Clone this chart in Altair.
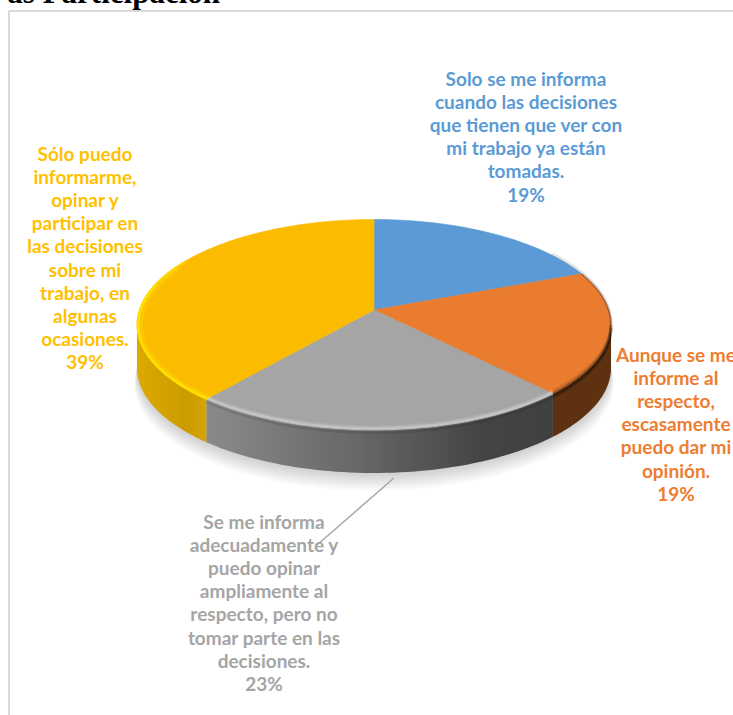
import math
import altair as alt
import pandas as pd

# Survey answers, in clockwise order from twelve o'clock
shares = [19, 19, 23, 39]
top_colors = ["#5b9ad4", "#ea7c30", "#a5a5a5", "#fbbc00"]
text_colors = ["#5b9bd5", "#ed7d31", "#a5a5a5", "#ffc000"]
answers = [
    "Solo se me informa\ncuando las decisiones\nque tienen que ver con\nmi trabajo ya están\ntomadas.",
    "Aunque se me\ninforme al\nrespecto,\nescasamente\npuedo dar mi\nopinión.",
    "Se me informa\nadecuadamente y\npuedo opinar\nampliamente al\nrespecto, pero no\ntomar parte en las\ndecisiones.",
    "Sólo puedo\ninformarme,\nopinar y\nparticipar en\nlas decisiones\nsobre mi\ntrabajo, en\nalgunas\nocasiones.",
]
heading = "as Participación"

# Label placement: centre x and top y of each text block
label_x = [526, 676, 264, 85]
label_y = [71, 347, 514, 146]

W, H = 733, 715
CX, CY = 374, 310       # projected pie centre
RX, RY = 234.7, 103.2   # projected radii
TILT = 0.14             # perspective strength
DEPTH = 43              # height of the pie wall
SIDE = math.degrees(math.acos(-TILT))  # angle of the widest point of the outline


def rim(theta, dy=0.0, grow=1.0):
    """Screen position of the pie rim at `theta` degrees clockwise from the top."""
    t = math.radians(theta)
    u, v = math.sin(t), -math.cos(t)
    w = 1 - TILT * v
    return CX + grow * RX * u / w, CY + grow * RY * v / w + dy


def arc(a, b, dy=0.0, grow=1.0, step=1.5):
    n = max(2, int(abs(b - a) / step) + 1)
    return [rim(a + (b - a) * i / (n - 1), dy, grow) for i in range(n)]


def frame(points):
    return pd.DataFrame(
        {"x": [p[0] for p in points], "y": [p[1] for p in points], "i": range(len(points))}
    )


x_scale = alt.Scale(domain=[0, W], range=[0, W], nice=False, zero=False)
y_scale = alt.Scale(domain=[0, H], range=[0, H], nice=False, zero=False)


def path(points, **style):
    return alt.Chart(frame(points)).mark_line(**style).encode(
        x=alt.X("x:Q", scale=x_scale, axis=None),
        y=alt.Y("y:Q", scale=y_scale, axis=None),
        order="i:Q",
    )


def shape(points, fill, opacity=1.0, stroke_width=0.6):
    return path(
        points, interpolate="linear-closed", fill=fill, stroke=fill,
        strokeWidth=stroke_width, opacity=opacity,
    )


def band(a, b, dy, color, width, opacity, grow=1.0):
    return path(arc(a, b, dy, grow), stroke=color, strokeWidth=width, strokeOpacity=opacity, strokeCap="butt")


def horizontal(stops):
    return alt.Gradient(
        gradient="linear", x1=0, x2=1, y1=0, y2=0,
        stops=[alt.GradientStop(offset=o, color=c) for o, c in stops],
    )


# Slice boundaries from the shares
edges = [0.0]
for s in shares:
    edges.append(edges[-1] + s * 3.6)

layers = []

# Soft ground shadow
for k in range(8):
    outline = arc(SIDE - 14, 360 - SIDE + 14, DEPTH + 1 + 2.2 * k, 1.0 + 0.0015 * k)
    layers.append(shape(outline, "#000000", opacity=0.022, stroke_width=0))

# Walls of the slices that face the viewer
wall_fills = {
    1: horizontal([(0, "#5e3110"), (1, "#5e3110")]),
    2: horizontal([(0, "#8a8a8a"), (0.45, "#666666"), (0.8, "#444444"), (1, "#404040")]),
    3: horizontal([(0, "#dca900"), (0.7, "#cc9c00"), (1, "#d6a400")]),
}
wall_spans = {1: (SIDE, edges[2]), 2: (edges[2], edges[3]), 3: (edges[3], 360 - SIDE)}
for idx, (a, b) in wall_spans.items():
    layers.append(shape(arc(a, b) + arc(b, a, DEPTH), wall_fills[idx], stroke_width=0))

# Top faces
for idx in range(len(shares)):
    layers.append(shape([(CX, CY)] + arc(edges[idx], edges[idx + 1]), top_colors[idx]))

# Bevel along the rim
layers += [
    band(edges[0] + 55, SIDE, -1.5, "#000000", 3, 0.10),
    band(edges[1], SIDE, 0, "#000000", 2, 0.22),
    band(SIDE, edges[2], -3, "#000000", 2.5, 0.10),
    band(SIDE, edges[2], 0, "#000000", 3, 0.35),
    band(SIDE, edges[2], 3, "#000000", 3, 0.30),
    band(edges[2], edges[3], -3.5, "#ffffff", 2, 0.12),
    band(edges[2], edges[3], -1.5, "#ffffff", 2.5, 0.32),
    band(edges[2], edges[3], 0.5, "#ffffff", 2, 0.12),
    band(edges[2], edges[3], 2.5, "#000000", 3, 0.10),
    band(edges[3], 296, 0, "#ffdb00", 5, 0.35, 0.985),
    band(edges[3], 285, 0, "#ffdf00", 3, 0.95, 0.995),
    band(285, 300, 0, "#ffdf00", 3, 0.5, 0.995),
]

# Leader line of the grey label
leader = frame([(394, 478), (317, 545)])
layers.append(
    alt.Chart(leader).mark_line(stroke="#ababab", strokeWidth=1.6).encode(
        x=alt.X("x:Q", scale=x_scale, axis=None),
        y=alt.Y("y:Q", scale=y_scale, axis=None),
        order="i:Q",
    )
)

# Data labels
labels = pd.DataFrame(
    {
        "text": [f"{a}\n{s}%" for a, s in zip(answers, shares)],
        "x": label_x,
        "y": label_y,
        "color": text_colors,
    }
)
layers.append(
    alt.Chart(labels).mark_text(
        font="Lato", fontWeight="bold", fontSize=19, lineBreak="\n", lineHeight=23.1,
        align="center", baseline="top",
    ).encode(
        x=alt.X("x:Q", scale=x_scale, axis=None),
        y=alt.Y("y:Q", scale=y_scale, axis=None),
        text="text:N",
        color=alt.Color("color:N", scale=None),
    )
)

# Panel border, open to the right and at the bottom
border_h = pd.DataFrame({"x": [9], "x2": [W], "y": [11]})
border_v = pd.DataFrame({"x": [9], "y": [11], "y2": [H]})
layers.append(
    alt.Chart(border_h).mark_rule(stroke="#d9d9d9", strokeWidth=2).encode(
        x=alt.X("x:Q", scale=x_scale, axis=None), x2="x2:Q",
        y=alt.Y("y:Q", scale=y_scale, axis=None),
    )
)
layers.append(
    alt.Chart(border_v).mark_rule(stroke="#d9d9d9", strokeWidth=2).encode(
        x=alt.X("x:Q", scale=x_scale, axis=None),
        y=alt.Y("y:Q", scale=y_scale, axis=None), y2="y2:Q",
    )
)

# Page heading running above the panel
title_df = pd.DataFrame({"text": [heading], "x": [220], "y": [3]})
layers.append(
    alt.Chart(title_df).mark_text(
        font="Liberation Serif", fontWeight="bold", fontSize=31, align="right",
        baseline="alphabetic", color="#000000",
    ).encode(
        x=alt.X("x:Q", scale=x_scale, axis=None),
        y=alt.Y("y:Q", scale=y_scale, axis=None),
        text="text:N",
    )
)

chart = (
    alt.layer(*layers)
    .properties(width=W, height=H, padding=0, background="#ffffff",
                autosize=alt.AutoSizeParams(type="none"))
    .configure_view(stroke=None)
)
chart.save("out.html", embed_options={"renderer": "svg", "actions": False})
